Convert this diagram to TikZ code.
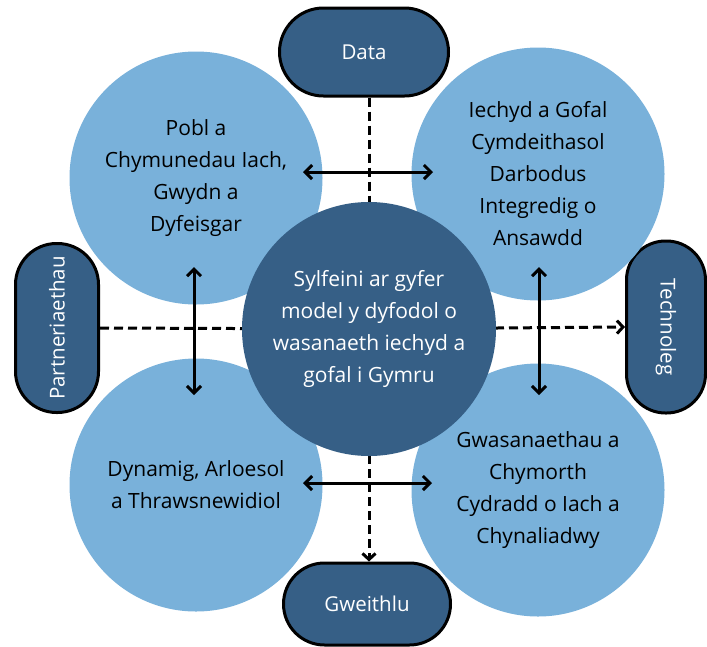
\documentclass[tikz,border=0pt]{standalone}
\usepackage{fontspec}
\setmainfont{Open Sans}
\usetikzlibrary{arrows.meta}
\definecolor{lightblue}{HTML}{79B1DA}
\definecolor{darkblue}{HTML}{365F86}
\begin{document}
\begin{tikzpicture}[x=1pt,y=-1pt,
  bubble/.style={circle, fill=lightblue, minimum size=253pt, inner sep=0pt, align=center,
    font=\fontsize{21}{32}\selectfont, text=black},
  core/.style={circle, fill=darkblue, minimum size=254pt, inner sep=0pt, align=center,
    font=\fontsize{21}{32}\selectfont, text=white},
  pill/.style={draw=black, line width=3pt, fill=darkblue, text=white, inner sep=0pt,
    font=\fontsize{20.5}{24}\selectfont},
  biarrow/.style={line width=3pt, {Straight Barb[length=7pt,width=14pt]}-{Straight Barb[length=7pt,width=14pt]}},
  dashline/.style={line width=3pt, dash pattern=on 9pt off 5pt},
  dashtip/.style={dashline, -{Straight Barb[length=6pt,width=13pt]}}
]
\useasboundingbox (0,0) rectangle (707,646);

% pills
\node[pill, minimum width=169pt, minimum height=88pt, rounded corners=44pt] (data) at (364,52) {Data};
\node[pill, minimum width=167pt, minimum height=82pt, rounded corners=41pt] (gw) at (367,604) {Gweithlu};
\node[pill, minimum width=169pt, minimum height=83pt, rounded corners=41pt, rotate=90] (part) at (57,328) {Partneriaethau};
\node[pill, minimum width=172pt, minimum height=79pt, rounded corners=39pt, rotate=-90] (tech) at (666,327) {Technoleg};

% central circle position for dashed lines
\coordinate (cc) at (369,329);
\draw[dashline] (data.south -| cc) -- (cc);
\draw[dashline] (part.south) -- (cc);

% bubbles
\node[bubble] (tl) at (196,178) {Pobl a\\Chymunedau Iach,\\Gwydn a\\Dyfeisgar};
\node[bubble] (tr) at (538,174) {Iechyd a Gofal\\Cymdeithasol\\Darbodus\\Integredig o\\Ansawdd};
\node[bubble] (bl) at (196,485) {Dynamig, Arloesol\\a Thrawsnewidiol};
\node[bubble] (br) at (538,490) {Gwasanaethau a\\Chymorth\\Cydradd o Iach a\\Chynaliadwy};

% dashed arrows out of the core
\draw[dashtip] (cc) -- (tech.south);
\draw[dashtip] (cc) -- (gw.north -| cc);

% core
\node[core] (c) at (cc) {Sylfeini ar gyfer\\model y dyfodol o\\wasanaeth iechyd a\\gofal i Gymru};

% double arrows between bubbles
\coordinate (a1) at (303,172);
\coordinate (a2) at (433,172);
\coordinate (b1) at (303,483);
\coordinate (b2) at (432,483);
\coordinate (l1) at (194,267);
\coordinate (l2) at (194,395);
\coordinate (r1) at (539,267);
\coordinate (r2) at (539,395);
\draw[biarrow] (a1) -- (a2);
\draw[biarrow] (b1) -- (b2);
\draw[biarrow] (l1) -- (l2);
\draw[biarrow] (r1) -- (r2);
\end{tikzpicture}
\end{document}
